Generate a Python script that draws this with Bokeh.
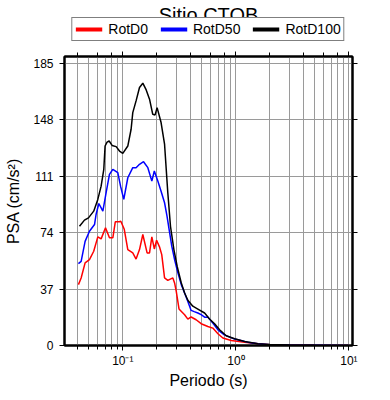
from bokeh.plotting import figure
from bokeh.layouts import column
from bokeh.models import (Range1d, FixedTicker, LogAxis, LinearAxis,
                          Legend, LegendItem, Label)
from bokeh.embed import file_html
from bokeh.resources import INLINE

FONT = "Liberation Sans"

# ---- data ----
period_d100 = [0.0414, 0.0458, 0.0497, 0.0553, 0.0601, 0.0643, 0.0679, 0.0697, 0.0726, 0.0757,
               0.0804, 0.0873, 0.0935, 0.100, 0.1107, 0.1184, 0.1225, 0.131, 0.1405, 0.1503,
               0.161, 0.1723, 0.184, 0.193, 0.201, 0.218, 0.234, 0.250, 0.264, 0.283,
               0.303, 0.329, 0.352, 0.376, 0.416, 0.461, 0.529, 0.585, 0.648, 0.718,
               0.821, 0.975, 1.194, 1.567, 2.0, 3.0, 5.0, 10.0]
psa_d100 = [78.2, 82.2, 83.7, 88.1, 95.8, 104.5, 115.5, 130.8, 133.4, 134.1,
            131.2, 130.4, 127.5, 126.0, 130.8, 141.8, 152.7, 160.4, 169.2, 172.0,
            167.6, 161.5, 151.6, 151.2, 156.0, 146.2, 132.0, 100.2, 78.2, 62.9,
            51.7, 41.0, 34.4, 29.7, 25.8, 23.9, 21.3, 17.4, 14.3, 10.3,
            6.4, 4.4, 2.6, 1.1, 0.6, 0.3, 0.15, 0.05]

period_d50 = [0.0405, 0.0428, 0.0464, 0.0507, 0.0562, 0.058, 0.0614, 0.0666, 0.0712, 0.0762,
              0.0816, 0.0903, 0.0955, 0.102, 0.1107, 0.1225, 0.131, 0.1405, 0.1525, 0.1665,
              0.1806, 0.190, 0.204, 0.218, 0.234, 0.246, 0.259, 0.271, 0.287, 0.307,
              0.329, 0.352, 0.376, 0.402, 0.428, 0.461, 0.493, 0.529, 0.565, 0.625,
              0.694, 0.791, 0.975, 1.27, 1.567, 2.0, 3.0, 5.0, 10.0]
psa_d50 = [53.7, 55.2, 68.3, 74.9, 79.3, 85.9, 93.1, 88.1, 100.2, 112.2,
           115.5, 113.3, 104.5, 95.8, 110.0, 116.6, 116.6, 118.8, 120.5, 116.6,
           107.8, 114.4, 107.8, 101.2, 93.6, 84.8, 74.3, 65.1, 56.3, 47.6,
           39.9, 34.4, 28.9, 23.0, 22.2, 21.3, 20.2, 18.6, 18.6, 14.7,
           10.3, 7.0, 4.2, 2.2, 1.1, 0.55, 0.25, 0.12, 0.04]

period_d0 = [0.0405, 0.0428, 0.0464, 0.0507, 0.0553, 0.0601, 0.0643, 0.0703, 0.0762, 0.0816,
             0.0858, 0.0931, 0.096, 0.103, 0.1107, 0.1225, 0.131, 0.1405, 0.1503, 0.164,
             0.1723, 0.1806, 0.190, 0.199, 0.211, 0.221, 0.234, 0.250, 0.277, 0.287,
             0.297, 0.314, 0.352, 0.376, 0.402, 0.445, 0.493, 0.565, 0.625, 0.694,
             0.767, 0.909, 1.194, 1.567, 2.0, 3.0, 5.0, 10.0]
psa_d0 = [39.9, 44.3, 54.2, 56.3, 61.8, 71.2, 69.9, 77.2, 70.6, 70.6,
          81.1, 81.1, 81.5, 76.2, 62.9, 60.7, 56.7, 62.9, 72.8, 60.7,
          60.7, 71.2, 63.3, 69.0, 64.7, 59.6, 44.3, 42.7, 44.3, 41.0,
          35.5, 24.0, 20.2, 17.3, 18.7, 16.9, 14.3, 12.5, 11.4, 7.7,
          4.9, 3.3, 2.2, 1.1, 0.5, 0.2, 0.1, 0.03]

series_names = ["RotD0", "RotD50", "RotD100"]
series_colors = ["#ff0000", "#0000ff", "#000000"]
y_ticks = [0, 37, 74, 111, 148, 185]
x_label_overrides = {0.1: "10\u207b\u00b9", 1: "10\u2070", 10: "10\u00b9"}
title_text = "Sitio CTOB"

series = [(series_names[0], period_d0, psa_d0, series_colors[0]),
          (series_names[1], period_d50, psa_d50, series_colors[1]),
          (series_names[2], period_d100, psa_d100, series_colors[2])]

# ---------------- header: title + legend ----------------
HW, HH, HL = 374, 48, 32
header = figure(width=HW, height=HH, x_range=Range1d(HL, HW), y_range=Range1d(0, HH),
                x_axis_location=None, y_axis_location=None,
                toolbar_location=None, output_backend="svg",
                min_border_left=HL, min_border_right=0,
                min_border_top=0, min_border_bottom=0)
header.outline_line_color = None
header.grid.visible = False

legend_items = []
for name, per, psa, col in series:
    r = header.line(per, psa, line_color=col, line_width=4, visible=False)
    legend_items.append(LegendItem(label=name, renderers=[r]))

header.add_layout(Label(x=203, y=34, text=title_text, text_align="center",
                        text_baseline="alphabetic", text_font=FONT,
                        text_font_size="20px", text_color="black"))

legend = Legend(items=legend_items, orientation="horizontal", location="bottom_center",
                label_text_font=FONT, label_text_font_size="14px",
                label_text_color="black",
                glyph_width=27, glyph_height=14, label_height=14,
                label_standoff=6, spacing=12, padding=3, margin=7,
                border_line_color="black", border_line_width=1.5,
                background_fill_color="white", background_fill_alpha=1)
header.add_layout(legend, "center")

# ---------------- main plot ----------------
p = figure(x_axis_type="log", width=374, height=343,
           x_range=Range1d(0.0305, 10.75), y_range=Range1d(0, 189.5),
           min_border_left=64, min_border_right=22,
           min_border_top=8, min_border_bottom=40,
           output_backend="svg", toolbar_location=None)

for name, per, psa, col in series:
    p.line(per, psa, line_color=col, line_width=1.5)

p.outline_line_color = "black"
p.outline_line_width = 2

p.xgrid.grid_line_color = "#9a9a9a"
p.xgrid.minor_grid_line_color = "#9a9a9a"
p.ygrid.grid_line_color = "#9a9a9a"
p.ygrid.ticker = FixedTicker(ticks=y_ticks)

def style_axis(ax):
    ax.axis_line_color = "black"
    ax.axis_line_width = 2
    ax.major_tick_in = 0
    ax.major_tick_out = 5
    ax.minor_tick_in = 0
    ax.minor_tick_out = 4
    ax.major_tick_line_color = "black"
    ax.minor_tick_line_color = "black"
    ax.major_label_text_font = FONT
    ax.major_label_text_font_size = "12px"
    ax.major_label_text_color = "black"
    ax.axis_label_text_font = FONT
    ax.axis_label_text_font_size = "16px"
    ax.axis_label_text_font_style = "normal"
    ax.axis_label_text_color = "black"

xa = p.xaxis[0]
style_axis(xa)
xa.major_label_overrides = x_label_overrides
xa.axis_label = "Periodo (s)"
xa.major_label_standoff = 3
xa.axis_label_standoff = 1

ya = p.yaxis[0]
style_axis(ya)
ya.ticker = FixedTicker(ticks=y_ticks)
ya.minor_tick_line_color = None
ya.axis_label = "PSA (cm/s\u00b2)"
ya.major_label_standoff = 6
ya.axis_label_standoff = 8

top = LogAxis()
style_axis(top)
top.major_label_text_alpha = 0
top.major_label_text_font_size = "2px"
top.major_label_standoff = 0
p.add_layout(top, "above")

right = LinearAxis(ticker=FixedTicker(ticks=y_ticks))
style_axis(right)
right.minor_tick_line_color = None
right.major_label_text_alpha = 0
right.major_label_text_font_size = "2px"
right.major_label_standoff = 0
p.add_layout(right, "right")

layout = column(header, p)
open("out.html", "w").write(file_html(layout, INLINE))
